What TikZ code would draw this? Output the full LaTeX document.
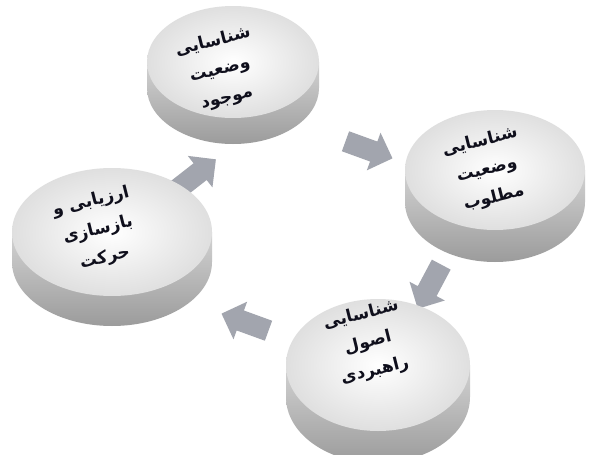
\documentclass[tikz,border=0pt]{standalone}
\usepackage{fontspec}
\newfontfamily\arabicfont[Script=Arabic]{DejaVu Sans}
\TeXXeTstate=1
\usetikzlibrary{shapes.arrows}
\definecolor{arrowgray}{RGB}{162,165,174}
\definecolor{txtcol}{RGB}{15,15,28}
\tikzset{
  flowarrow/.style={single arrow, fill=arrowgray, draw=none, minimum height=50pt,
    minimum width=40pt, single arrow head extend=9pt, inner xsep=0pt, inner ysep=10pt},
  btntext/.style={font=\arabicfont\bfseries\fontsize{17}{29}\selectfont, text=txtcol, align=center, inner sep=0pt},
}
\newcommand\pillbtn[6]{%
  \shade[top color=gray!35, bottom color=gray!78]
    (#2-#4,#3) -- (#2-#4,#3+#6)
    arc[start angle=180, end angle=0, x radius=#4, y radius=#5]
    -- (#2+#4,#3) -- cycle;
  \shade[inner color=white, outer color=gray!25] (#2,#3) ellipse[x radius=#4, y radius=#5];
  \coordinate (#1) at (#2,#3);
}
\begin{document}
\begin{tikzpicture}[x=1pt,y=-1pt]
  \fill[white] (0,0) rectangle (589,455);
  \useasboundingbox (0,0) rectangle (589,455);
  % arrows
  \node[flowarrow, rotate=-20] (a1) at (364,148) {};
  \node[flowarrow, rotate=-118] (a2) at (432,282) {};
  \node[flowarrow, rotate=160] (a3) at (250,324) {};
  \node[flowarrow, rotate=38] (a4) at (192,178) {};
  % buttons
  \pillbtn{b1}{233}{62}{86}{56}{26}
  \pillbtn{b2}{495}{170}{90}{60}{32}
  \pillbtn{b3}{378}{365}{92}{66}{32}
  \pillbtn{b4}{112}{232}{100}{64}{30}
  % texts
  \node[btntext, rotate=14] (t1) at (220,70) {\beginR شناسایی\endR\\\beginR وضعیت\endR\\\beginR موجود\endR};
  \node[btntext, rotate=14] (t2) at (487,170) {\beginR شناسایی\endR\\\beginR وضعیت\endR\\\beginR مطلوب\endR};
  \node[btntext, rotate=14] (t3) at (368,343) {\beginR شناسایی\endR\\\beginR اصول\endR\\\beginR راهبردی\endR};
  \node[btntext, rotate=14] (t4) at (98,230) {\beginR ارزیابی و\endR\\\beginR بازسازی\endR\\\beginR حرکت\endR};
\end{tikzpicture}
\end{document}
